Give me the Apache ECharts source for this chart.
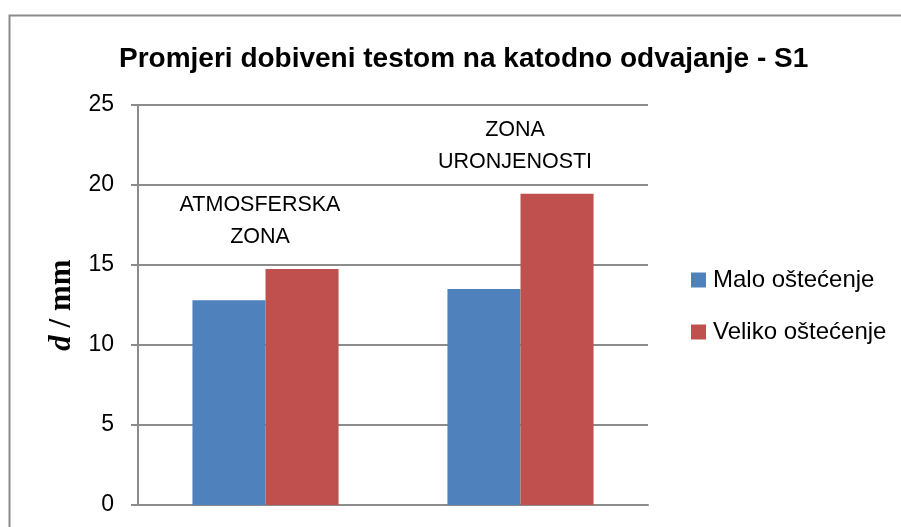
<!DOCTYPE html>
<html>
<head>
<meta charset="utf-8">
<script src="https://cdn.jsdelivr.net/npm/echarts@6/dist/echarts.min.js"></script>
<style>html,body{margin:0;padding:0;background:#fff}#c{width:901px;height:527px}</style>
</head>
<body>
<div id="c"></div>
<script>
var categories = ['ATMOSFERSKA ZONA', 'ZONA URONJENOSTI'];
var zoneLabels = ['ATMOSFERSKA\nZONA', 'ZONA\nURONJENOSTI'];
var seriesNames = ['Malo oštećenje', 'Veliko oštećenje'];
var maloValues = [12.8, 13.5];
var velikoValues = [14.75, 19.45];
var yTicks = [0, 5, 10, 15, 20, 25];

var chart = echarts.init(document.getElementById('c'), null, {renderer: 'canvas'});
var F = 'Liberation Sans, Arial, sans-serif';
var SERIF = 'Liberation Serif, Times New Roman, serif';
chart.setOption({
  animation: false,
  backgroundColor: '#fff',
  graphic: [{
    type: 'rect', left: 7, top: 13, shape: {width: 1000, height: 1000},
    style: {fill: 'none', stroke: '#8c8c8c', lineWidth: 2}, silent: true
  }],
  title: {
    text: 'Promjeri dobiveni testom na katodno odvajanje - S1',
    left: 114, top: 40,
    textStyle: {fontFamily: F, fontWeight: 'bold', fontSize: 28, color: '#000'}
  },
  legend: {
    orient: 'vertical', left: 691, top: 268, padding: 0,
    itemWidth: 15, itemHeight: 15, itemGap: 28,
    icon: 'rect',
    textStyle: {fontFamily: F, fontSize: 24, color: '#000', padding: [0, 0, 0, 2]},
    data: seriesNames
  },
  grid: {left: 138, right: 253, top: 105, bottom: 22, containLabel: false},
  xAxis: {
    type: 'category', data: categories,
    axisLine: {show: true, lineStyle: {color: '#8c8c8c', width: 2}},
    axisTick: {show: false},
    axisLabel: {show: false}
  },
  yAxis: {
    type: 'value', min: yTicks[0], max: yTicks[yTicks.length - 1], interval: 5,
    name: '{i|d} / mm', nameLocation: 'middle', nameGap: 60, nameRotate: 90,
    nameTextStyle: {
      fontFamily: SERIF, fontWeight: 'bold', fontSize: 31, color: '#000',
      rich: {i: {fontFamily: SERIF, fontStyle: 'italic', fontWeight: 'bold', fontSize: 31, color: '#000'}}
    },
    axisLine: {show: true, lineStyle: {color: '#8c8c8c', width: 2}},
    axisTick: {show: true, inside: false, length: 7, lineStyle: {color: '#8c8c8c', width: 2}},
    axisLabel: {fontFamily: F, fontSize: 23, color: '#000', margin: 24},
    splitLine: {show: true, lineStyle: {color: '#8c8c8c', width: 2}}
  },
  series: [{
    name: seriesNames[0], type: 'bar', data: maloValues,
    barGap: '0%', barCategoryGap: '42.7%',
    itemStyle: {color: '#4F81BD'}
  }, {
    name: seriesNames[1], type: 'bar', data: velikoValues,
    barGap: '0%', barCategoryGap: '42.7%',
    itemStyle: {color: '#C0504D'},
    label: {
      show: true, position: 'top', distance: 16, offset: [-42, 0],
      formatter: function (p) { return zoneLabels[p.dataIndex]; },
      fontFamily: F, fontSize: 21.5, lineHeight: 32, color: '#000', align: 'center'
    }
  }]
});
</script>
</body>
</html>
